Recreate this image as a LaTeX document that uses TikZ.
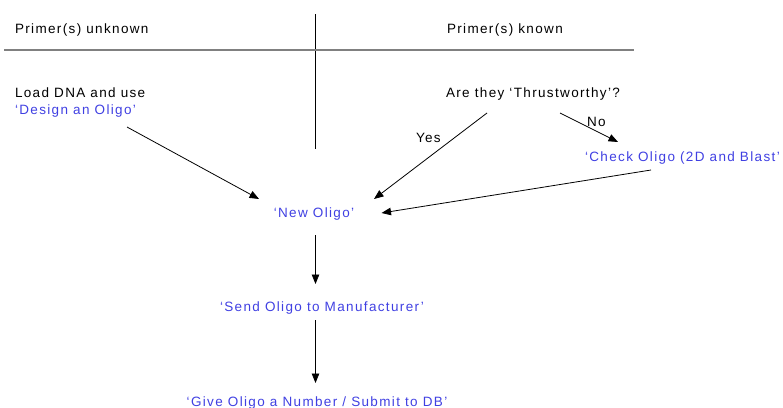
\documentclass[tikz,border=0pt]{standalone}
\usepackage{fontspec}
\setmainfont{Liberation Sans}[LetterSpace=10]
\usetikzlibrary{arrows.meta}
\definecolor{stepblue}{RGB}{64,64,226}
\definecolor{rulegray}{RGB}{128,128,128}
\begin{document}
\begin{tikzpicture}[x=1pt,y=-1pt,
  lbl/.style={inner sep=0pt,outer sep=0pt,font=\fontsize{13.5}{17}\selectfont,text=black},
  act/.style={lbl,text=stepblue},
  arr/.style={draw=black,line width=0.8pt,-{Triangle[length=9.5pt,width=7.5pt]}}]
\useasboundingbox (0,0) rectangle (783,407);

% column dividers
\draw[black,line width=0.8pt] (315,14) -- (315,149);
\draw[rulegray,line width=1.4pt] (4,50) -- (634,50);

% column headings
\node[lbl,anchor=base west] (unknown) at (15,33) {Primer(s) unknown};
\node[lbl,anchor=base west] (known) at (447,33) {Primer(s) known};

% left column
\node[lbl,anchor=base west] (load) at (15,97) {Load DNA and use};
\node[act,anchor=base west] (design) at (15,114) {‘Design an Oligo’};

% right column
\node[lbl,anchor=base west] (thrust) at (446,97) {Are they ‘Thrustworthy’?};
\node[lbl,anchor=base west] (yes) at (416,142) {Yes};
\node[lbl,anchor=base west] (no) at (587,126) {No};
\node[act,anchor=base west] (check) at (585,161) {‘Check Oligo (2D and Blast’};

% main sequence
\node[act,anchor=base] (new) at (314,217) {‘New Oligo’};
\node[act,anchor=base] (send) at (322,311) {‘Send Oligo to Manufacturer’};
\node[act,anchor=base] (give) at (317,406) {‘Give Oligo a Number / Submit to DB’};

% connectors
\draw[arr] ([shift={(112,13)}]design.base west) -- ([shift={(-55,-18)}]new.base);
\draw[arr] ([shift={(41,16)}]thrust.base west) -- ([shift={(60,-18)}]new.base);
\draw[arr] ([shift={(114,16)}]thrust.base west) -- ([shift={(33,-19)}]check.base west);
\draw[arr] ([shift={(66,9)}]check.base west) -- ([shift={(67.5,-4)}]new.base);
\draw[arr] ([shift={(1.5,18)}]new.base) -- ([shift={(-6.5,-27)}]send.base);
\draw[arr] ([shift={(-6.5,9)}]send.base) -- ([shift={(-1.5,-23)}]give.base);
\end{tikzpicture}
\end{document}
